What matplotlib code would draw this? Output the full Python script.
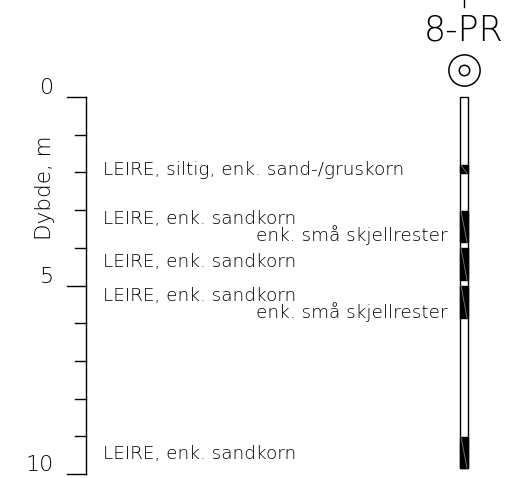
import matplotlib.pyplot as plt
from matplotlib.patches import Rectangle

# Borhull 8-PR: dybdeskala, lagbeskrivelser og prøvekolonne
borhull = "8-PR"
dybde_ticks = [0, 1, 2, 3, 4, 5, 6, 7, 8, 9, 10]
dybde_labels = [0, 5, 10]
kolonne_bunn = 9.84

# prøver (topp, bunn) i meter
prover_topp = [1.81, 3.02, 4.00, 5.00, 9.02]
prover_bunn = [2.02, 3.85, 4.86, 5.86, 9.84]

# beskrivelser (dybde, tekst)
beskr_dybde = [1.94, 3.24, 4.38, 5.28, 9.47]
beskr_tekst = ["LEIRE, siltig, enk. sand-/gruskorn",
               "LEIRE, enk. sandkorn",
               "LEIRE, enk. sandkorn",
               "LEIRE, enk. sandkorn",
               "LEIRE, enk. sandkorn"]
tillegg_dybde = [3.66, 5.70]
tillegg_tekst = ["enk. små skjellrester", "enk. små skjellrester"]

plt.rcParams['font.family'] = ['DejaVu Sans']

fig = plt.figure(figsize=(5.32, 4.78), dpi=100)
ax = fig.add_axes([0, 0, 1, 1])
ax.set_xlim(0, 532)
ax.set_ylim(10.106, -2.573)
ax.axis('off')

LW = 1.0
ax_x = 86
# dybdeakse
ax.plot([ax_x, ax_x], [0, 10], color='black', lw=LW)
for d in dybde_ticks:
    x0 = 67 if d in dybde_labels else 75
    ax.plot([x0, ax_x], [d, d], color='black', lw=LW)
for d in dybde_labels:
    ax.text(54, d + 0.03, str(d), ha='right', va='bottom', fontsize=16, fontweight='light')
ax.text(45, 2.41, "Dybde, m", rotation=90, ha='center', va='center', fontsize=15.5, fontweight='light')

# beskrivelser
for d, t in zip(beskr_dybde, beskr_tekst):
    ax.text(103, d, t, ha='left', va='center', fontsize=13.2, fontweight='light')
for d, t in zip(tillegg_dybde, tillegg_tekst):
    ax.text(448, d, t, ha='right', va='center', fontsize=13.2, fontweight='light')

# borhullsymbol og navn
kx = 464
ax.plot([kx, kx], [-2.573, -2.39], color='black', lw=LW)
ax.text(kx, -1.76, borhull, ha='center', va='center', fontsize=25, fontweight='light')
ax.plot(kx, -0.72, marker='o', markersize=22.5, markerfacecolor='none', markeredgecolor='black', mew=1.1)
ax.plot(kx, -0.72, marker='o', markersize=7.5, markerfacecolor='none', markeredgecolor='black', mew=1.1)

# prøvekolonne
kb = 8
ax.add_patch(Rectangle((kx - kb / 2, 0), kb, kolonne_bunn, facecolor='white', edgecolor='black', lw=LW))
for t, b in zip(prover_topp, prover_bunn):
    ax.add_patch(Rectangle((kx - kb / 2, t), kb, b - t, facecolor='black', edgecolor='black', lw=LW))
    ax.plot([kx - kb / 2 + 1, kx + kb / 2 - 1], [t, b], color='#808080', lw=0.6)

fig.savefig("out.png", dpi=100)
